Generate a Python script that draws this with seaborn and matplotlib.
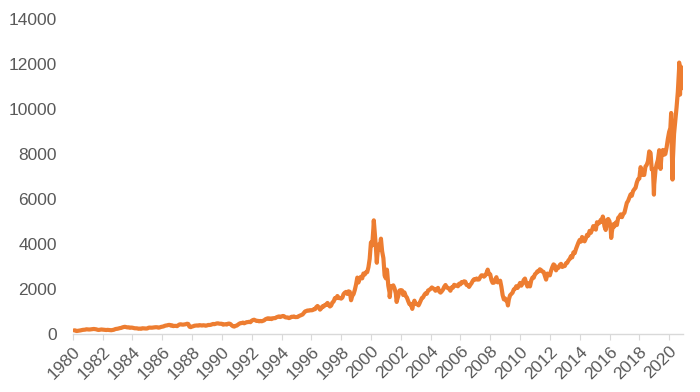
import numpy as np
import pandas as pd
import matplotlib
matplotlib.use("Agg")
import matplotlib.pyplot as plt
import matplotlib.dates as mdates
import seaborn as sns

# Monthly closing values (Jan..Dec)
y1980s = [
    [161, 158, 131, 139, 150, 157, 172, 182, 188, 193, 209, 202],
    [198, 201, 211, 216, 223, 215, 206, 186, 180, 192, 200, 196],
    [188, 180, 176, 184, 178, 171, 167, 178, 187, 212, 226, 232],
    [248, 261, 270, 293, 309, 319, 303, 292, 297, 274, 285, 279],
    [268, 253, 253, 248, 232, 239, 230, 254, 249, 247, 242, 247],
    [278, 284, 279, 281, 290, 296, 301, 298, 280, 292, 313, 325],
    [336, 360, 375, 383, 400, 405, 371, 384, 350, 361, 359, 349],
    [392, 424, 430, 417, 416, 425, 434, 455, 444, 323, 305, 331],
    [345, 367, 374, 379, 370, 394, 387, 376, 388, 382, 367, 381],
    [401, 399, 406, 428, 446, 435, 453, 469, 472, 456, 456, 454],
]
y1990s = [
    [415, 425, 435, 420, 458, 462, 438, 381, 344, 329, 359, 374],
    [414, 453, 482, 484, 506, 475, 502, 525, 527, 542, 523, 586],
    [620, 633, 603, 578, 585, 563, 580, 563, 583, 605, 652, 677],
    [696, 670, 690, 661, 700, 704, 705, 742, 763, 779, 754, 777],
    [800, 793, 743, 733, 735, 706, 722, 765, 764, 777, 750, 752],
    [755, 794, 817, 843, 865, 933, 1001, 1020, 1044, 1036, 1059, 1052],
    [1060, 1100, 1101, 1191, 1243, 1185, 1081, 1141, 1227, 1222, 1293, 1291],
    [1380, 1309, 1222, 1261, 1400, 1442, 1594, 1587, 1686, 1594, 1601, 1570],
    [1620, 1771, 1835, 1869, 1779, 1895, 1872, 1499, 1694, 1771, 1950, 2193],
    [2505, 2288, 2461, 2543, 2471, 2686, 2638, 2739, 2746, 2966, 3336, 4069],
]
y2000s = [
    [3940, 4697, 4573, 3861, 3401, 3966, 3767, 4206, 3673, 3370, 2598, 2471],
    [2773, 2152, 1840, 2116, 2110, 2161, 2027, 1805, 1499, 1690, 1931, 1950],
    [1934, 1731, 1845, 1688, 1616, 1463, 1328, 1315, 1172, 1330, 1479, 1336],
    [1321, 1338, 1341, 1464, 1596, 1623, 1735, 1810, 1787, 1932, 1960, 2003],
    [2066, 2030, 1994, 1920, 1987, 2048, 1887, 1838, 1897, 1975, 2097, 2175],
    [2062, 2052, 1999, 1922, 2068, 2057, 2185, 2152, 2152, 2120, 2233, 2205],
    [2306, 2281, 2340, 2323, 2179, 2172, 2091, 2184, 2258, 2367, 2432, 2415],
    [2464, 2416, 2422, 2525, 2605, 2603, 2546, 2596, 2702, 2859, 2661, 2652],
    [2390, 2271, 2279, 2413, 2523, 2293, 2326, 2368, 2092, 1721, 1536, 1577],
    [1476, 1377, 1529, 1717, 1774, 1835, 1979, 2009, 2122, 2045, 2145, 2269],
]
y2010s = [
    [2147, 2238, 2398, 2461, 2257, 2109, 2255, 2114, 2369, 2507, 2498, 2653],
    [2700, 2782, 2781, 2874, 2835, 2774, 2756, 2579, 2415, 2684, 2620, 2605],
    [2814, 2967, 3092, 3046, 2827, 2935, 2940, 3067, 3116, 2977, 3010, 3020],
    [3142, 3160, 3268, 3329, 3456, 3403, 3626, 3590, 3771, 3920, 4060, 4177],
    [4104, 4308, 4199, 4115, 4243, 4408, 4370, 4580, 4493, 4631, 4792, 4736],
    [4635, 4964, 4901, 4941, 5070, 4987, 5128, 4777, 4620, 5054, 5109, 5007],
    [4614, 4558, 4870, 4775, 4948, 4843, 5162, 5213, 5312, 5189, 5324, 5383],
    [5615, 5825, 5912, 6048, 6199, 6140, 6348, 6429, 6496, 6728, 6874, 6903],
    [7411, 7273, 7063, 7066, 7442, 7510, 7672, 8110, 8046, 7306, 7331, 6635],
    [7282, 7533, 7729, 8095, 7453, 8006, 8175, 7963, 7999, 8292, 8665, 8973],
]
y2020 = [9151, 8567, 7700, 8890, 9490, 10059, 10745, 11775, 11168]

# Intra-month extremes visible in the chart
extreme_dates = ["1987-10-19", "2000-03-10", "2000-05-23", "2000-09-01", "2001-01-24",
                 "2001-04-04", "2001-09-21", "2002-10-09", "2003-03-11", "2009-03-09",
                 "2015-07-20", "2016-02-11", "2018-08-29", "2018-10-03", "2018-12-24",
                 "2019-05-03", "2019-06-03", "2020-02-19", "2020-03-23", "2020-09-02",
                 "2020-09-23", "2020-10-12", "2020-10-30"]
extreme_values = [360, 5048, 3164, 4234, 2859,
                  1638, 1423, 1114, 1271, 1268,
                  5218, 4266, 8109, 8025, 6190,
                  8164, 7333, 9817, 6860, 12056,
                  10633, 11876, 10911]

year_ticks = list(range(1980, 2021, 2))
y_ticks = [0, 2000, 4000, 6000, 8000, 10000, 12000, 14000]

monthly = [v for dec in (y1980s, y1990s, y2000s, y2010s) for yr in dec for v in yr] + y2020
month_dates = pd.date_range("1980-01-31", periods=len(monthly), freq="ME")

df = pd.DataFrame({
    "date": list(month_dates) + list(pd.to_datetime(extreme_dates)),
    "value": monthly + extreme_values,
}).sort_values("date")

sns.set_style("white")
plt.rcParams["font.family"] = ["Liberation Sans", "DejaVu Sans"]

fig = plt.figure(figsize=(7, 3.92), dpi=100)
ax = fig.add_axes([0.104, 0.148, 0.872, 0.804])

sns.lineplot(data=df, x="date", y="value", ax=ax, color="#ED7D31", linewidth=3.0)

ax.set_xlim(pd.Timestamp("1980-01-01"), pd.Timestamp("2020-12-10"))
ax.set_ylim(0, 14000)
ax.set_yticks(y_ticks)
ax.set_yticklabels([str(v) for v in y_ticks])
ax.set_xticks([pd.Timestamp(f"{y}-01-01") for y in year_ticks])
ax.set_xticklabels([str(y) for y in year_ticks], rotation=45, ha="right",
                   rotation_mode="anchor")
ax.set_xlabel("")
ax.set_ylabel("")

for s in ["top", "right", "left"]:
    ax.spines[s].set_visible(False)
ax.spines["bottom"].set_color("#D9D9D9")
ax.spines["bottom"].set_linewidth(1.0)
ax.tick_params(axis="x", which="both", bottom=True, length=4, color="#D9D9D9",
               labelsize=12.5, labelcolor="#595959", pad=3)
ax.tick_params(axis="y", left=False, labelsize=12.5, labelcolor="#595959", pad=8)

fig.savefig("out.png", dpi=100)
